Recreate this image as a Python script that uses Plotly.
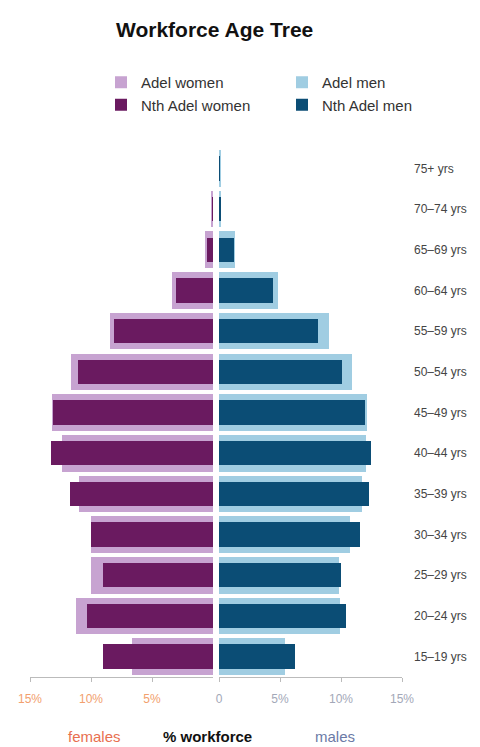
import plotly.graph_objects as go

ages = ["15–19 yrs", "20–24 yrs", "25–29 yrs", "30–34 yrs", "35–39 yrs", "40–44 yrs",
        "45–49 yrs", "50–54 yrs", "55–59 yrs", "60–64 yrs", "65–69 yrs", "70–74 yrs", "75+ yrs"]
adel_women = [6.6, 11.2, 10.0, 10.0, 11.0, 12.4, 13.2, 11.6, 8.45, 3.4, 0.65, 0.1, 0.0]
nth_adel_women = [9.0, 10.35, 9.0, 10.0, 11.7, 13.3, 13.1, 11.1, 8.1, 3.05, 0.5, 0.05, 0.0]
adel_men = [5.4, 9.9, 9.8, 10.75, 11.7, 12.05, 12.15, 10.9, 9.05, 4.8, 1.3, 0.2, 0.1]
nth_adel_men = [6.25, 10.4, 10.0, 11.55, 12.3, 12.45, 12.0, 10.05, 8.15, 4.4, 1.2, 0.2, 0.05]

tick_left_vals = [15, 10, 5]
tick_left_text = ["15%", "10%", "5%"]
tick_right_vals = [0, 5, 10, 15]
tick_right_text = ["0", "5%", "10%", "15%"]

C_AW = "#c7a3d1"
C_NW = "#6a1a60"
C_AM = "#a0cde2"
C_NM = "#0b4d75"

FONT = "Liberation Sans, Arial, sans-serif"

fig = go.Figure()
fig.add_trace(go.Bar(y=ages, x=adel_women, orientation="h", name="Adel women",
                     marker=dict(color=C_AW, line_width=0), width=0.9,
                     xaxis="x", yaxis="y", legend="legend"))
fig.add_trace(go.Bar(y=ages, x=adel_men, orientation="h", name="Adel men",
                     marker=dict(color=C_AM, line_width=0), width=0.9,
                     xaxis="x2", yaxis="y", legend="legend2"))
fig.add_trace(go.Bar(y=ages, x=nth_adel_women, orientation="h", name="Nth Adel women",
                     marker=dict(color=C_NW, line_width=0), width=0.6,
                     xaxis="x", yaxis="y", legend="legend"))
fig.add_trace(go.Bar(y=ages, x=nth_adel_men, orientation="h", name="Nth Adel men",
                     marker=dict(color=C_NM, line_width=0), width=0.6,
                     xaxis="x2", yaxis="y", legend="legend2"))

W, H = 480, 747
legend_common = dict(orientation="v", yref="container", yanchor="top", y=1 - 66 / H,
                     xanchor="left", traceorder="normal",
                     font=dict(size=15, color="#333333"),
                     itemwidth=30, tracegroupgap=0, bgcolor="rgba(0,0,0,0)",
                     borderwidth=0)
fig.update_layout(
    width=W, height=H,
    margin=dict(l=0, r=0, t=148, b=70, autoexpand=False),
    paper_bgcolor="white", plot_bgcolor="white",
    barmode="overlay",
    bargap=0,
    font=dict(family=FONT, color="#333333"),
    title=dict(text="<b>Workforce Age Tree</b>", x=116 / W, xanchor="left",
               y=1 - 30 / H, yanchor="middle",
               font=dict(size=21, color="#111111", family=FONT)),
    legend=dict(x=101 / W, **legend_common),
    legend2=dict(x=282 / W, **legend_common),
    xaxis=dict(domain=[30 / W, 213 / W], range=[15, 0], anchor="y", automargin=False,
               showgrid=False, zeroline=False, showline=True, linecolor="#bbbbbb",
               ticks="outside", ticklen=4, tickcolor="#bbbbbb",
               tickvals=tick_left_vals, ticktext=tick_left_text,
               tickfont=dict(size=12, color="#f2a06e"), ticklabelstandoff=7),
    xaxis2=dict(domain=[219 / W, 402 / W], range=[0, 15], anchor="y", automargin=False,
                showgrid=False, zeroline=False, showline=True, linecolor="#bbbbbb",
                ticks="outside", ticklen=4, tickcolor="#bbbbbb",
                tickvals=tick_right_vals, ticktext=tick_right_text,
                tickfont=dict(size=12, color="#a3a8b8"), ticklabelstandoff=7),
    yaxis=dict(anchor="x2", side="right", categoryorder="array", categoryarray=ages,
               range=[-0.5, len(ages) - 0.5], automargin=False,
               showgrid=False, zeroline=False, showline=False, ticks="",
               tickfont=dict(size=12, color="#444444"), ticklabelstandoff=11),
    showlegend=True,
)

ann_y = -59 / (H - 218)
fig.add_annotation(text="females", x=94 / W, y=ann_y, xref="paper", yref="paper",
                   showarrow=False, font=dict(size=15, color="#e8704f", family=FONT),
                   xanchor="center", yanchor="middle")
fig.add_annotation(text="<b>% workforce</b>", x=207 / W, y=ann_y, xref="paper", yref="paper",
                   showarrow=False, font=dict(size=15, color="#111111", family=FONT),
                   xanchor="center", yanchor="middle")
fig.add_annotation(text="males", x=335 / W, y=ann_y, xref="paper", yref="paper",
                   showarrow=False, font=dict(size=15, color="#6b7aa6", family=FONT),
                   xanchor="center", yanchor="middle")

fig.write_html("out.html")
